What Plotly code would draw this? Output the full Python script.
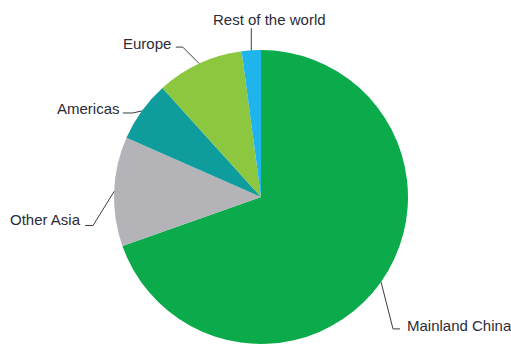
import math
import plotly.graph_objects as go

# Share of revenue by region (%)
regions = ["Mainland China", "Other Asia", "Americas", "Europe", "Rest of the world"]
shares = [69.6, 12.0, 6.7, 9.6, 2.1]
colors = ["#0BAB4C", "#B4B4B8", "#0E9C9D", "#8DC63F", "#1FB4EC"]

W, H = 511, 345
CX, CY, R = 261, 197, 147  # pie centre and radius in pixels

# Leader-line styling per label: elbow offset from the slice edge (px),
# length of the horizontal tail, text anchor and text offset from the tail end.
label_style = {
    "Mainland China":    dict(elbow=(12, 47), tail=7, anchor=("left", "middle"), text=(5, -3)),
    "Other Asia":        dict(elbow=(-21, 34), tail=-8, anchor=("right", "middle"), text=(-2, -6)),
    "Americas":          dict(elbow=(-9, 2), tail=-10, anchor=("right", "middle"), text=(-1, -4)),
    "Europe":            dict(elbow=(-16.5, -16.5), tail=-7, anchor=("right", "middle"), text=(-3, -4)),
    "Rest of the world": dict(elbow=(0, -22), tail=0, anchor=("center", "middle"), text=(18, -9)),
}


def px(x):
    return x / W


def py(y):
    return 1 - y / H


fig = go.Figure(
    go.Pie(
        labels=regions,
        values=shares,
        sort=False,
        direction="clockwise",
        rotation=0,
        marker=dict(colors=colors, line=dict(width=0)),
        textinfo="none",
        hoverinfo="label+percent",
        domain=dict(x=[px(CX - R), px(CX + R)], y=[py(CY + R), py(CY - R)]),
        showlegend=False,
    )
)

shapes = []
annotations = []
total = sum(shares)
start = 0.0
for name, val in zip(regions, shares):
    sweep = val / total * 360
    mid = math.radians(start + sweep / 2)
    start += sweep
    ex = CX + R * math.sin(mid)
    ey = CY - R * math.cos(mid)
    st = label_style[name]
    bx, by = ex + st["elbow"][0], ey + st["elbow"][1]
    tx = bx + st["tail"]
    shapes.append(dict(
        type="path",
        xref="paper", yref="paper",
        path=f"M {px(ex)},{py(ey)} L {px(bx)},{py(by)} L {px(tx)},{py(by)}",
        line=dict(color="#3c3c3c", width=1),
    ))
    xa, ya = st["anchor"]
    dx, dy = st["text"]
    annotations.append(dict(
        x=px(tx + dx), y=py(by + dy), text=name,
        xanchor=xa, yanchor=ya,
        xref="paper", yref="paper", showarrow=False,
        font=dict(family="Liberation Sans, Arial, sans-serif", size=15, color="#2b2b38"),
    ))

fig.update_layout(
    width=W, height=H,
    margin=dict(l=0, r=0, t=0, b=0),
    paper_bgcolor="white",
    plot_bgcolor="white",
    shapes=shapes,
    annotations=annotations,
)

fig.write_html("out.html")
